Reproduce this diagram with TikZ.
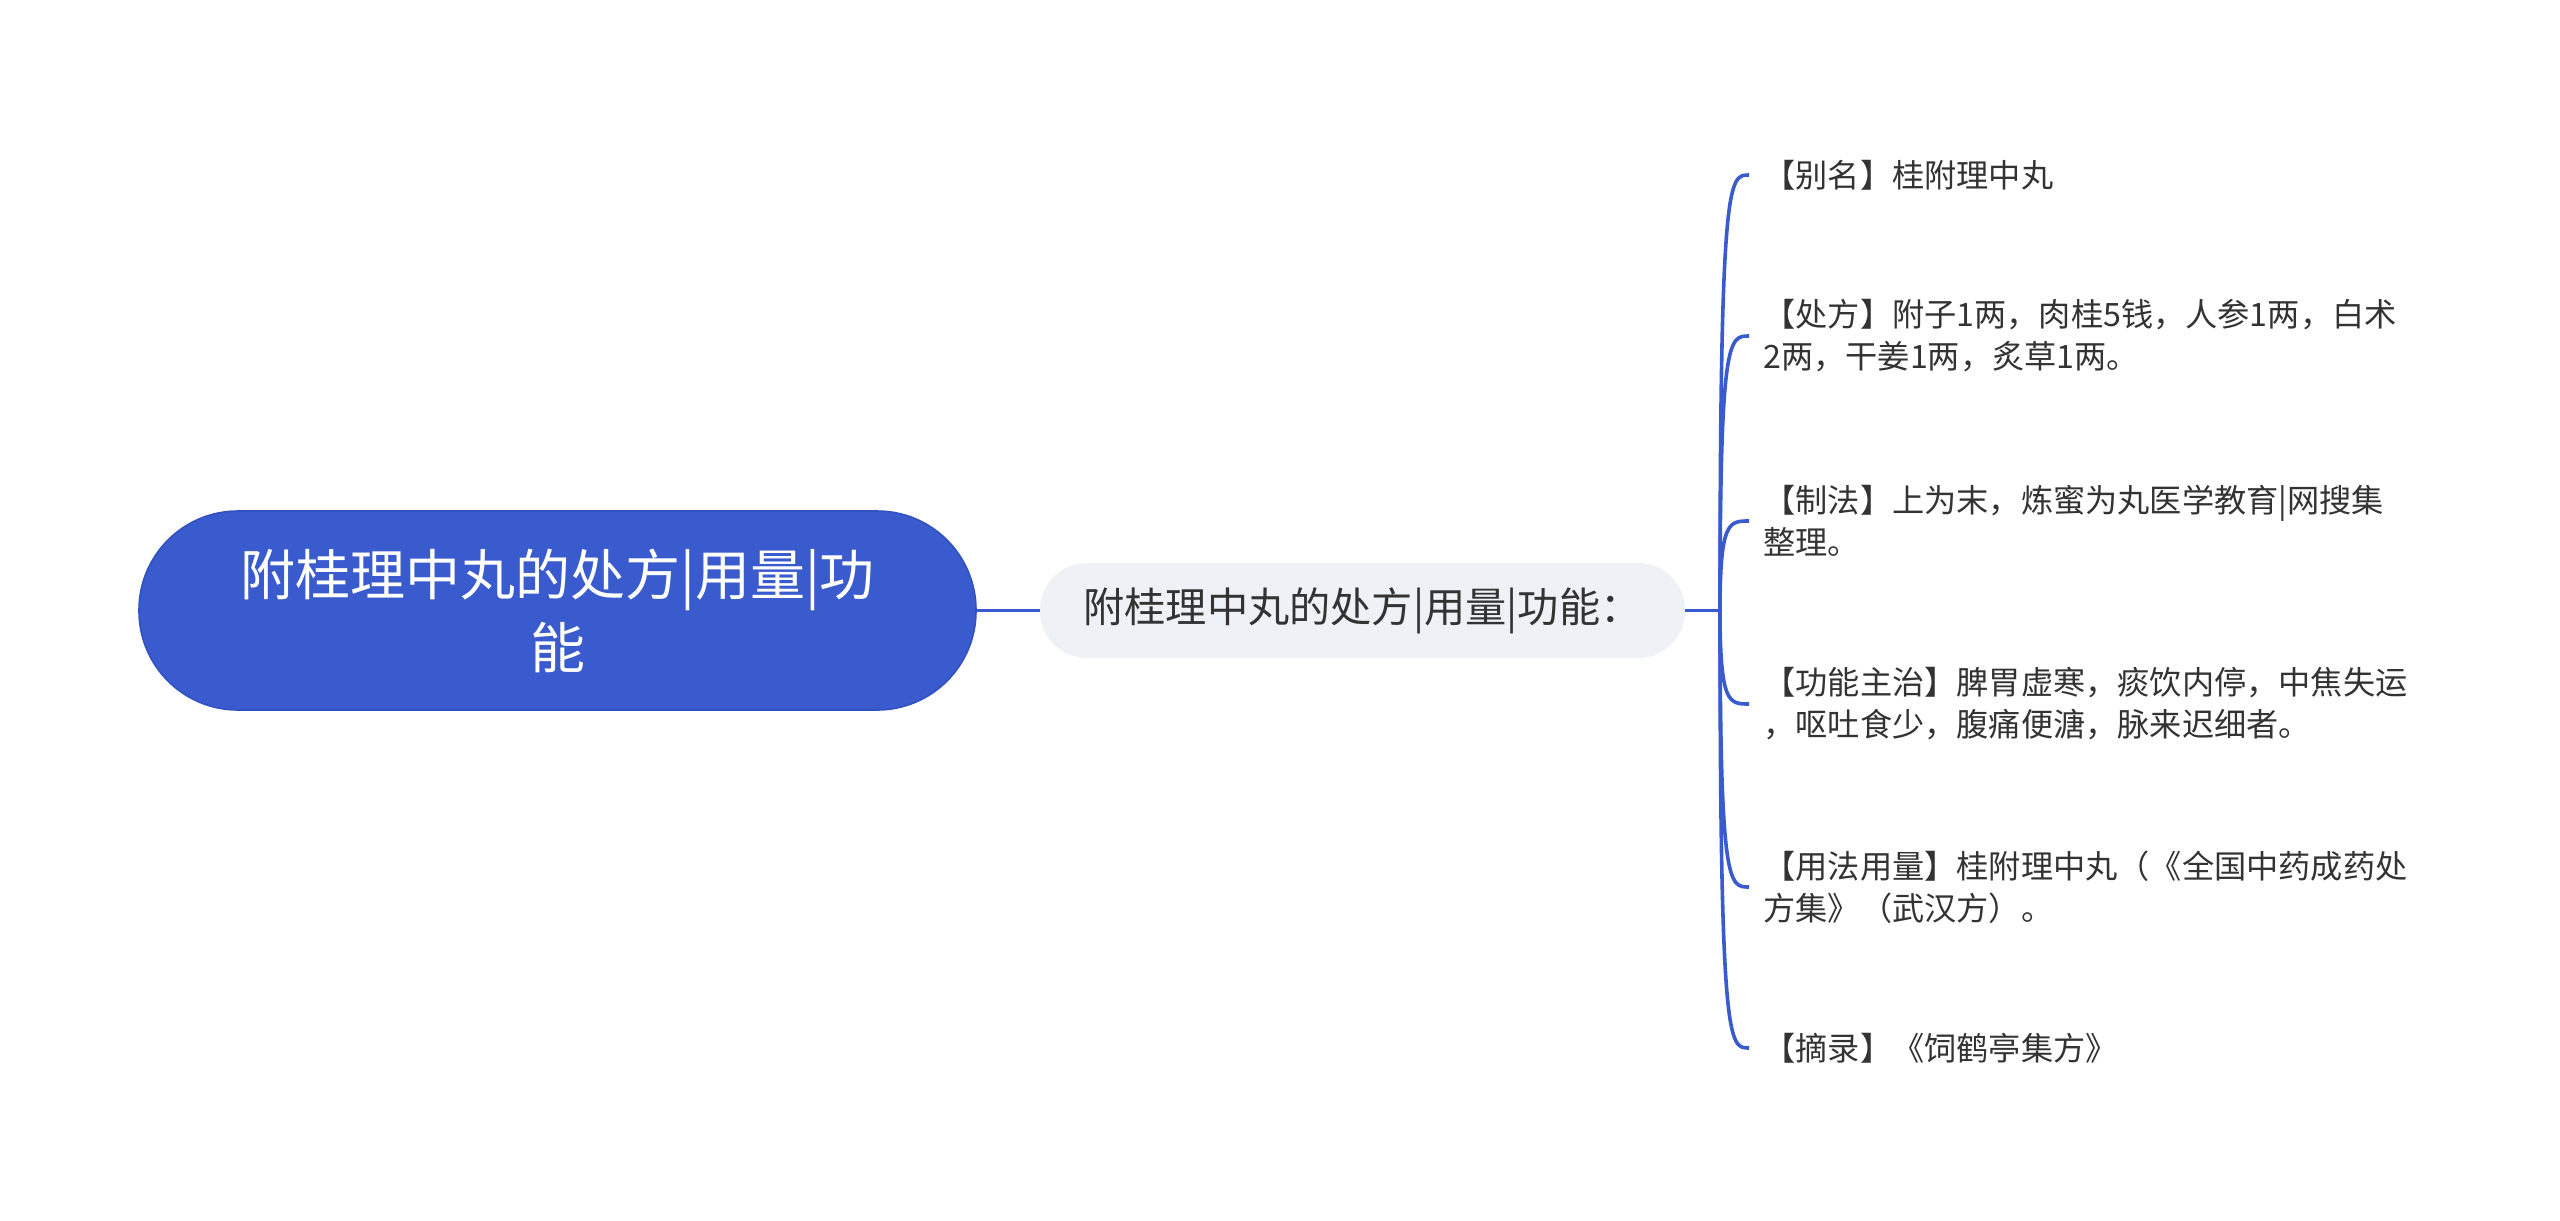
\documentclass[tikz,border=0pt]{standalone}
\usepackage{fontspec}
\setmainfont{Noto Sans CJK SC}
\definecolor{mainblue}{HTML}{3A5BCD}
\definecolor{rootborder}{HTML}{3252BF}
\definecolor{midfill}{HTML}{EEF1F5}
\definecolor{txt}{HTML}{333333}
\tikzset{
  rootbox/.style={fill=mainblue, draw=rootborder, line width=0.8pt, rounded corners=49.5pt,
    minimum width=418.5pt, minimum height=99.5pt, align=center, text=white,
    font=\fontsize{27.5pt}{36.5pt}\selectfont, inner sep=0pt},
  midbox/.style={fill=midfill, draw=none, rounded corners=23.5pt,
    minimum width=322.5pt, minimum height=47.5pt, align=center, text=txt,
    font=\fontsize{20.6pt}{26pt}\selectfont, inner sep=0pt},
  leafbox/.style={anchor=west, align=left, text=txt, inner xsep=7pt, inner ysep=0pt,
    font=\fontsize{16.1pt}{21pt}\selectfont},
  link/.style={draw=mainblue, line width=1.8pt},
}
\begin{document}
\begin{tikzpicture}[x=0.5pt, y=-0.5pt]
\fill[white] (0,0) rectangle (2560,1221);
\useasboundingbox (0,0) rectangle (2560,1221);

\node[rootbox] (root) at (557.5,610.5) {附桂理中丸的处方|用量|功\\能};
\node[midbox] (mid) at (1362.5,610.5) {附桂理中丸的处方|用量|功能：};
\coordinate (J) at (1720,610.5);

\node[leafbox] (l1) at (1749,175) {【别名】桂附理中丸};
\node[leafbox] (l2) at (1749,336) {【处方】附子1两，肉桂5钱，人参1两，白术\\2两，干姜1两，炙草1两。};
\node[leafbox] (l3) at (1749,521) {【制法】上为末，炼蜜为丸医学教育|网搜集\\整理。};
\node[leafbox] (l4) at (1749,704) {【功能主治】脾胃虚寒，痰饮内停，中焦失运\\，呕吐食少，腹痛便溏，脉来迟细者。};
\node[leafbox] (l5) at (1749,887) {【用法用量】桂附理中丸（《全国中药成药处\\方集》（武汉方）。};
\node[leafbox] (l6) at (1749,1048) {【摘录】《饲鹤亭集方》};

\draw[link] (root.east) -- (mid.west);
\draw[link] (mid.east) -- (J);
\foreach \l in {l1,l2,l3,l4,l5,l6}{
  \draw[link] (J) .. controls (J |- \l.west) and ([xshift=-10pt]\l.west) .. (\l.west);
}
\end{tikzpicture}
\end{document}
